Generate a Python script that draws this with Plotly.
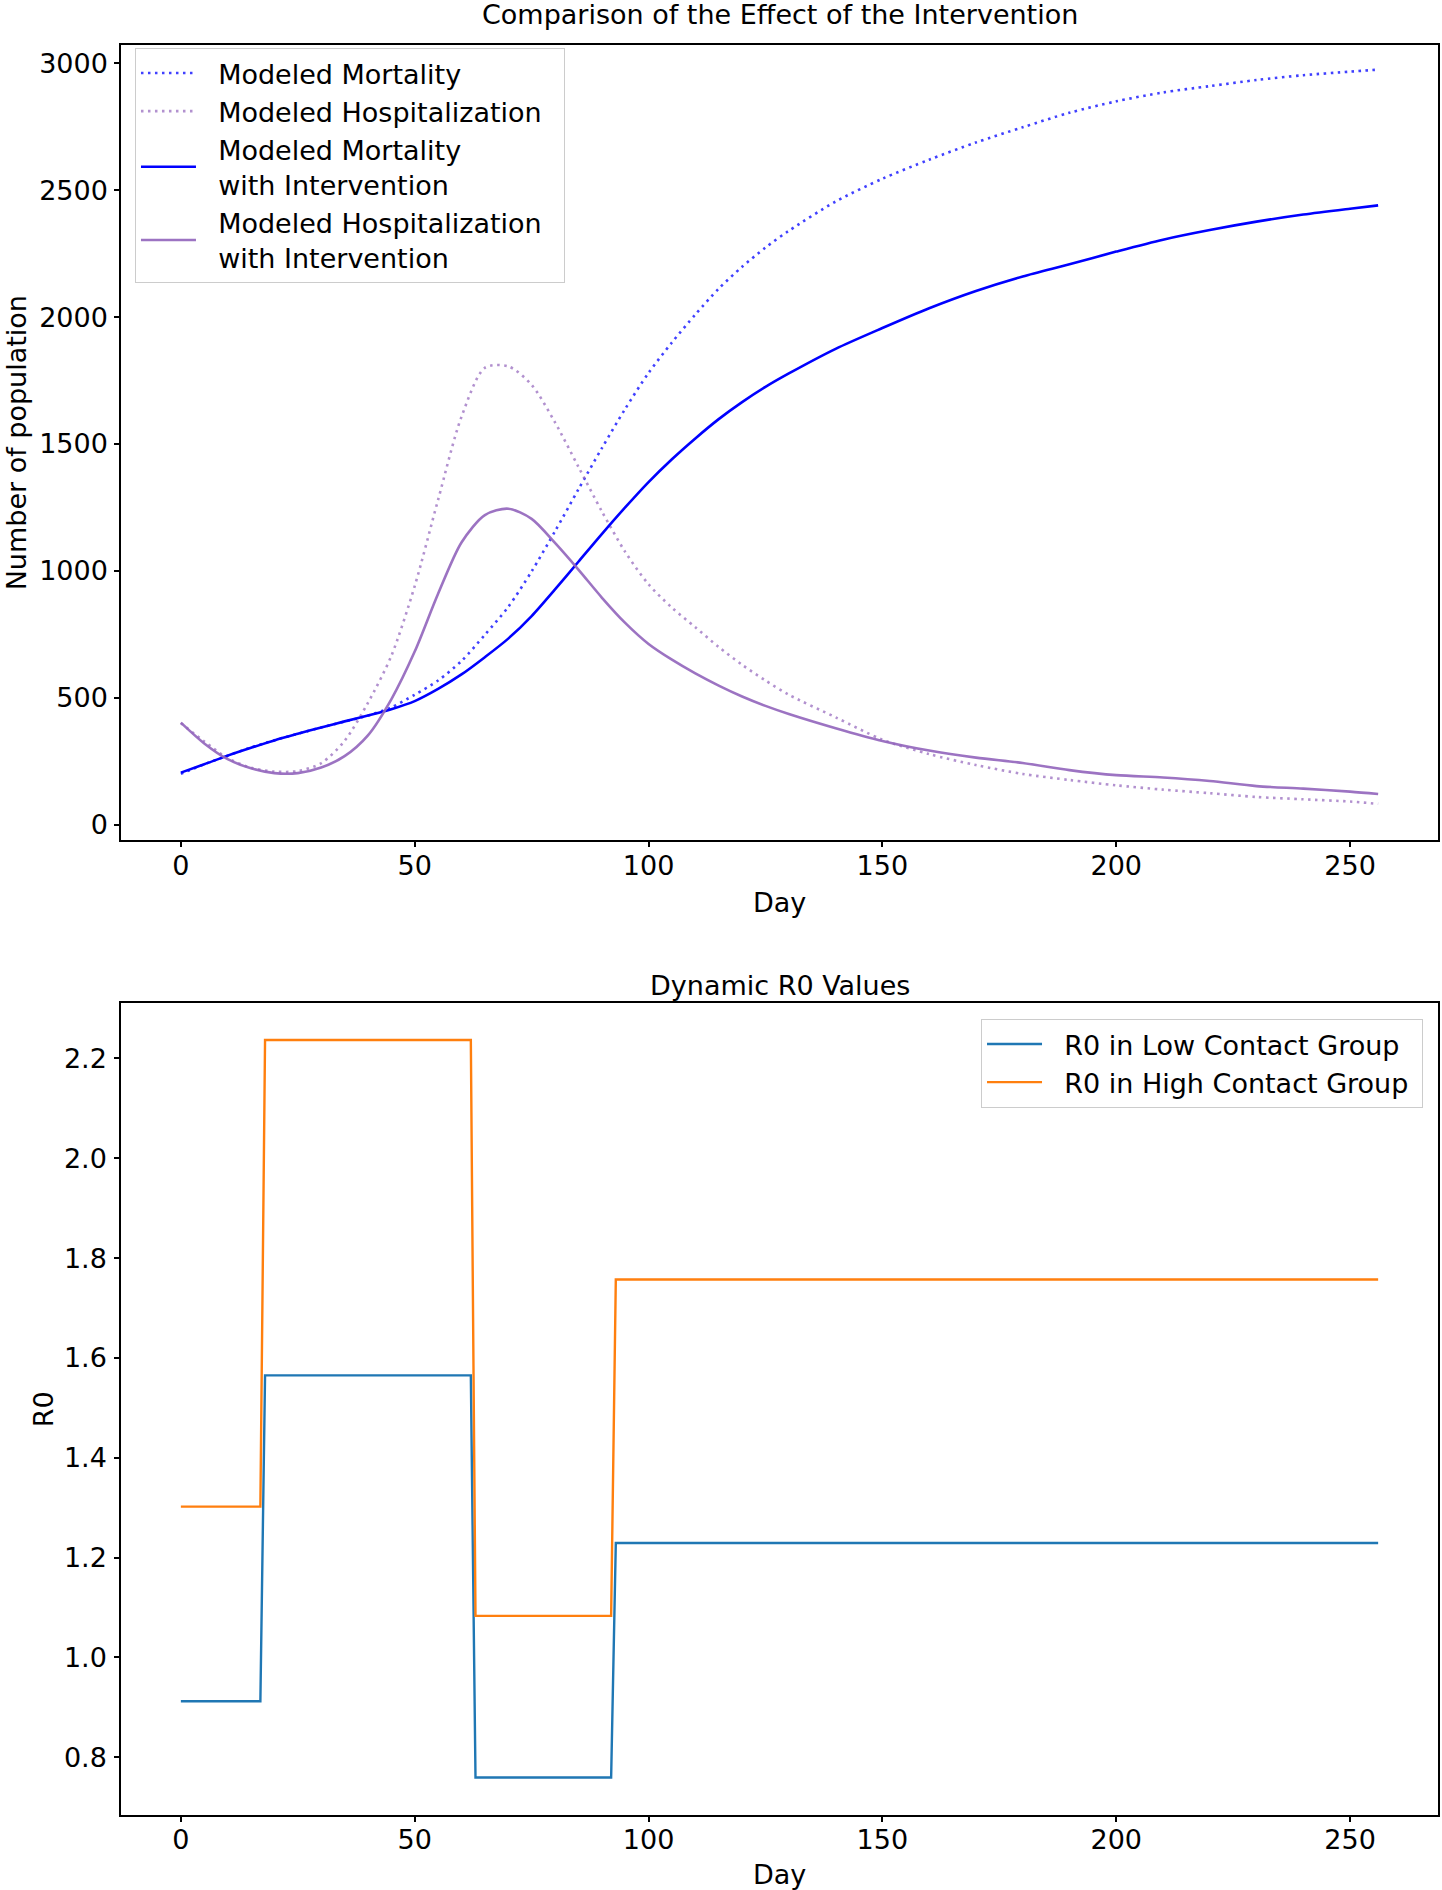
import plotly.graph_objects as go

# ---------------- data ----------------
days = [0, 5, 10, 15, 20, 25, 30, 35, 40, 45, 50, 55, 60, 65, 70, 75, 80, 85, 90, 95,
        100, 105, 110, 115, 120, 125, 130, 140, 150, 160, 170, 180, 190, 200, 210, 220,
        230, 240, 250, 256]

mortality = [200, 238, 272, 304, 333, 358, 383, 406, 430, 462, 512, 568, 645, 748, 858,
             998, 1156, 1321, 1483, 1638, 1780, 1900, 2010, 2112, 2198, 2274, 2340, 2455,
             2545, 2620, 2688, 2748, 2805, 2850, 2885, 2910, 2934, 2953, 2967, 2975]

hospitalization = [400, 328, 262, 224, 209, 211, 242, 330, 480, 665, 940, 1280, 1607,
                   1800, 1806, 1733, 1585, 1410, 1235, 1075, 947, 855, 778, 700, 630, 568,
                   512, 423, 335, 278, 235, 200, 176, 155, 138, 124, 109, 100, 91, 82]

mortality_int = [205, 238, 272, 303, 332, 358, 383, 407, 430, 455, 487, 535, 592, 660,
                 733, 822, 927, 1036, 1145, 1250, 1350, 1440, 1522, 1598, 1665, 1725, 1778,
                 1875, 1957, 2035, 2103, 2160, 2208, 2258, 2305, 2343, 2376, 2404, 2427,
                 2440]

hospitalization_int = [402, 320, 258, 222, 203, 203, 225, 270, 352, 494, 682, 910, 1112,
                       1220, 1245, 1205, 1110, 1005, 895, 795, 712, 650, 596, 548, 505, 468,
                       436, 380, 330, 292, 264, 243, 215, 195, 186, 172, 152, 142, 130, 121]

r0_days = [0, 17, 18, 62, 63, 92, 93, 256]
r0_low = [0.912, 0.912, 1.565, 1.565, 0.759, 0.759, 1.229, 1.229]
r0_high = [1.302, 1.302, 2.237, 2.237, 1.083, 1.083, 1.757, 1.757]

x_ticks = [0, 50, 100, 150, 200, 250]
top_y_ticks = [0, 500, 1000, 1500, 2000, 2500, 3000]
bottom_y_ticks = [0.8, 1.0, 1.2, 1.4, 1.6, 1.8, 2.0, 2.2]

# ---------------- styling ----------------
FONT = "DejaVu Sans"
FS = 27
DOT = "2.5px,4.5px"
NB = "\u00a0"


def lbl(text, tail=2):
    return "<br>".join(NB * 2 + part + NB * tail for part in text.split("\n"))


fig = go.Figure()

fig.add_trace(go.Scatter(x=days, y=mortality, mode="lines", name=lbl("Modeled Mortality"),
                         line=dict(color="rgba(0,0,255,0.75)", width=2.6, dash=DOT,
                                   shape="spline", smoothing=0.8),
                         xaxis="x", yaxis="y", legend="legend"))
fig.add_trace(go.Scatter(x=days, y=hospitalization, mode="lines",
                         name=lbl("Modeled Hospitalization"),
                         line=dict(color="rgba(148,103,189,0.72)", width=2.6, dash=DOT,
                                   shape="spline", smoothing=0.8),
                         xaxis="x", yaxis="y", legend="legend"))
fig.add_trace(go.Scatter(x=days, y=mortality_int, mode="lines",
                         name=lbl("Modeled Mortality\nwith Intervention"),
                         line=dict(color="#0000ff", width=2.6, shape="spline", smoothing=0.8),
                         xaxis="x", yaxis="y", legend="legend"))
fig.add_trace(go.Scatter(x=days, y=hospitalization_int, mode="lines",
                         name=lbl("Modeled Hospitalization\nwith Intervention"),
                         line=dict(color="rgba(148,103,189,0.92)", width=2.6,
                                   shape="spline", smoothing=0.8),
                         xaxis="x", yaxis="y", legend="legend"))

fig.add_trace(go.Scatter(x=r0_days, y=r0_low, mode="lines",
                         name=lbl("R0 in Low Contact Group", 1),
                         line=dict(color="#1f77b4", width=2.4),
                         xaxis="x2", yaxis="y2", legend="legend2"))
fig.add_trace(go.Scatter(x=r0_days, y=r0_high, mode="lines",
                         name=lbl("R0 in High Contact Group", 1),
                         line=dict(color="#ff7f0e", width=2.4),
                         xaxis="x2", yaxis="y2", legend="legend2"))

ML, MR, MT, MB = 121, 2, 45, 75
W, H = 1442, 1890
PH = H - MT - MB
PW = W - ML - MR


def py(px):  # pixel y -> paper y
    return (H - MB - px) / PH


def pxx(px):  # pixel x -> paper x
    return (px - ML) / PW


axis_common = dict(showline=True, mirror=True, linecolor="black", linewidth=1.5,
                   ticks="outside", ticklen=5, tickwidth=1.5, tickcolor="black",
                   showgrid=False, zeroline=False, tickfont=dict(size=FS))

fig.update_layout(
    width=W, height=H, autosize=False,
    margin=dict(l=ML, r=MR, t=MT, b=MB),
    paper_bgcolor="white", plot_bgcolor="white",
    font=dict(family=FONT, size=FS, color="black"),
    xaxis=dict(domain=[0, 1], anchor="y", range=[-12.8, 268.8], tickvals=x_ticks,
               ticklabelstandoff=-5, **axis_common),
    yaxis=dict(domain=[py(840.4), 1], anchor="x", range=[-62, 3072], tickvals=top_y_ticks,
               ticklabelstandoff=1, **axis_common),
    xaxis2=dict(domain=[0, 1], anchor="y2", range=[-12.8, 268.8], tickvals=x_ticks,
                ticklabelstandoff=-5, **axis_common),
    yaxis2=dict(domain=[0, py(1003.1)], anchor="x2", range=[0.684, 2.311],
                tickvals=bottom_y_ticks, ticktext=[f"{v:.1f}" for v in bottom_y_ticks],
                ticklabelstandoff=2, **axis_common),
    legend=dict(x=pxx(135), y=py(48), xanchor="left", yanchor="top",
                font=dict(size=FS), bordercolor="#cccccc", borderwidth=1,
                bgcolor="rgba(255,255,255,0.8)", itemwidth=55, tracegroupgap=4),
    legend2=dict(x=pxx(1425), y=py(1019), xanchor="right", yanchor="top",
                 font=dict(size=FS), bordercolor="#cccccc", borderwidth=1,
                 bgcolor="rgba(255,255,255,0.8)", itemwidth=55),
    showlegend=True,
)

ann = [
    dict(text="Comparison of the Effect of the Intervention", xref="x domain", yref="y domain",
         x=0.5, y=1, yanchor="middle", yshift=31, showarrow=False, font=dict(size=FS)),
    dict(text="Day", xref="x domain", yref="y domain", x=0.5, y=0, yanchor="middle",
         yshift=-62, showarrow=False, font=dict(size=FS)),
    dict(text="Number of population", xref="paper", yref="y domain", x=pxx(16.5), y=0.5,
         xanchor="center", yanchor="middle", textangle=-90, showarrow=False,
         font=dict(size=FS)),
    dict(text="Dynamic R0 Values", xref="x2 domain", yref="y2 domain", x=0.5, y=1,
         yanchor="middle", yshift=18, showarrow=False, font=dict(size=FS)),
    dict(text="Day", xref="x2 domain", yref="y2 domain", x=0.5, y=0, yanchor="middle",
         yshift=-59, showarrow=False, font=dict(size=FS)),
    dict(text="R0", xref="paper", yref="y2 domain", x=pxx(43), y=0.5,
         xanchor="center", yanchor="middle", textangle=-90, showarrow=False,
         font=dict(size=FS)),
]
fig.update_layout(annotations=ann)

fig.write_html("out.html", config={"displayModeBar": False},
               post_script="document.body.style.margin='0px';")
